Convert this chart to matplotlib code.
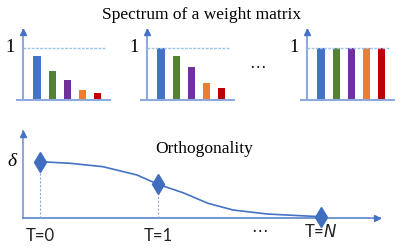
import matplotlib
matplotlib.use("Agg")
import matplotlib.pyplot as plt

# spectrum panels: singular values of a weight matrix
bar_colors = ["#4472C4", "#548235", "#7030A0", "#ED7D31", "#C00000"]
bar_pos = [1, 2, 3, 4, 5]
spec_first = [0.85, 0.56, 0.38, 0.19, 0.13]
spec_mid = [1.0, 0.85, 0.63, 0.33, 0.23]
spec_last = [1.0, 1.0, 1.0, 1.0, 1.0]

# orthogonality curve delta(T)
curve_t = [0, 0.254, 0.534, 0.822, 1.0, 1.212, 1.424, 1.636, 1.924, 2.203, 2.381]
curve_d = [1.0, 0.972, 0.911, 0.764, 0.599, 0.449, 0.261, 0.142, 0.071, 0.041, 0.023]
mark_t = [0, 1.0, 2.381]
mark_d = [1.0, 0.599, 0.023]
mark_lab = ["T=0", "T=1", "T=$\\mathit{N}$"]

axis_c = "#8EA9DB"
line_c = "#4472C4"
serif = "Liberation Serif"

W, H = 403, 247
fig = plt.figure(figsize=(W / 100, H / 100), dpi=100)


def px_axes(x0, y0, x1, y1):
    # rect given in pixels (top-left origin)
    return fig.add_axes([x0 / W, 1 - y1 / H, (x1 - x0) / W, (y1 - y0) / H])


for left, vals in zip([17.2, 141.2, 301.2], [spec_first, spec_mid, spec_last]):
    ax = px_axes(left, 30, left + 92.7, 100)
    ax.set_xlim(-0.3, 5.8)
    ax.set_ylim(0, 1.346)
    ax.axis("off")
    ax.bar(bar_pos, vals, width=0.47, color=bar_colors)
    ax.axhline(0, color=axis_c, lw=1.5, clip_on=False)
    ax.plot([0.1, 0.1], [0, 1.346], color=axis_c, lw=1.5, clip_on=False)
    ax.plot(0.1, 1.30, marker="^", ms=5, color=line_c, clip_on=False)
    ax.hlines(1, 0.1, 5.55, color="#9DC3E6", lw=1, linestyles=(0, (2, 1)))
    ax.annotate("1", (0.1, 1), xytext=(-6, 0), textcoords="offset points",
                ha="right", va="center", fontsize=13.5, family=serif)

fig.text(0.5, 1 - 15 / H, "Spectrum of a weight matrix", ha="center",
         va="center", fontsize=12.5, family=serif)
fig.text(257 / W, 1 - 67 / H, "\u22ef", ha="center", va="center",
         fontsize=12, color="#222222")

# bottom panel
ax = px_axes(23, 131, 383, 218)
ax.set_xlim(-0.144, 2.907)
ax.set_ylim(0, 1.545)
ax.axis("off")
ax.plot([-0.144, -0.144], [0, 1.545], color=axis_c, lw=1.5, clip_on=False)
ax.plot(-0.144, 1.50, marker="^", ms=5, color=line_c, clip_on=False)
ax.plot([-0.144, 2.88], [0, 0], color="#5B84CC", lw=1.2, clip_on=False)
ax.plot(2.86, 0, marker=">", ms=5, color=line_c, clip_on=False)
ax.plot(curve_t, curve_d, color=line_c, lw=1.2, clip_on=False)
ax.vlines(mark_t[:2], 0, mark_d[:2], color="#8EA9DB", lw=0.8,
          linestyles=(0, (2, 1.5)))
ax.plot(mark_t, mark_d, linestyle="none", marker="d", ms=10,
        color="#3F6DBF", clip_on=False)
for t, lab, dy in zip(mark_t, mark_lab, [-13, -13, -10]):
    ax.annotate(lab, (t, 0), xytext=(0, dy), textcoords="offset points",
                ha="center", va="center", fontsize=12, family="Lato",
                color="#222222")
ax.annotate("\u22ef", (1.856, 0), xytext=(0, -9), textcoords="offset points",
            ha="center", va="center", fontsize=12, color="#222222")
ax.annotate("\u03b4", (-0.144, 1.0), xytext=(-5, 0), textcoords="offset points",
            ha="right", va="center", fontsize=14, family=serif, style="italic")
fig.text(204 / W, 1 - 149 / H, "Orthogonality", ha="center", va="center",
         fontsize=12.5, family=serif)

fig.savefig("out.png", dpi=100)
